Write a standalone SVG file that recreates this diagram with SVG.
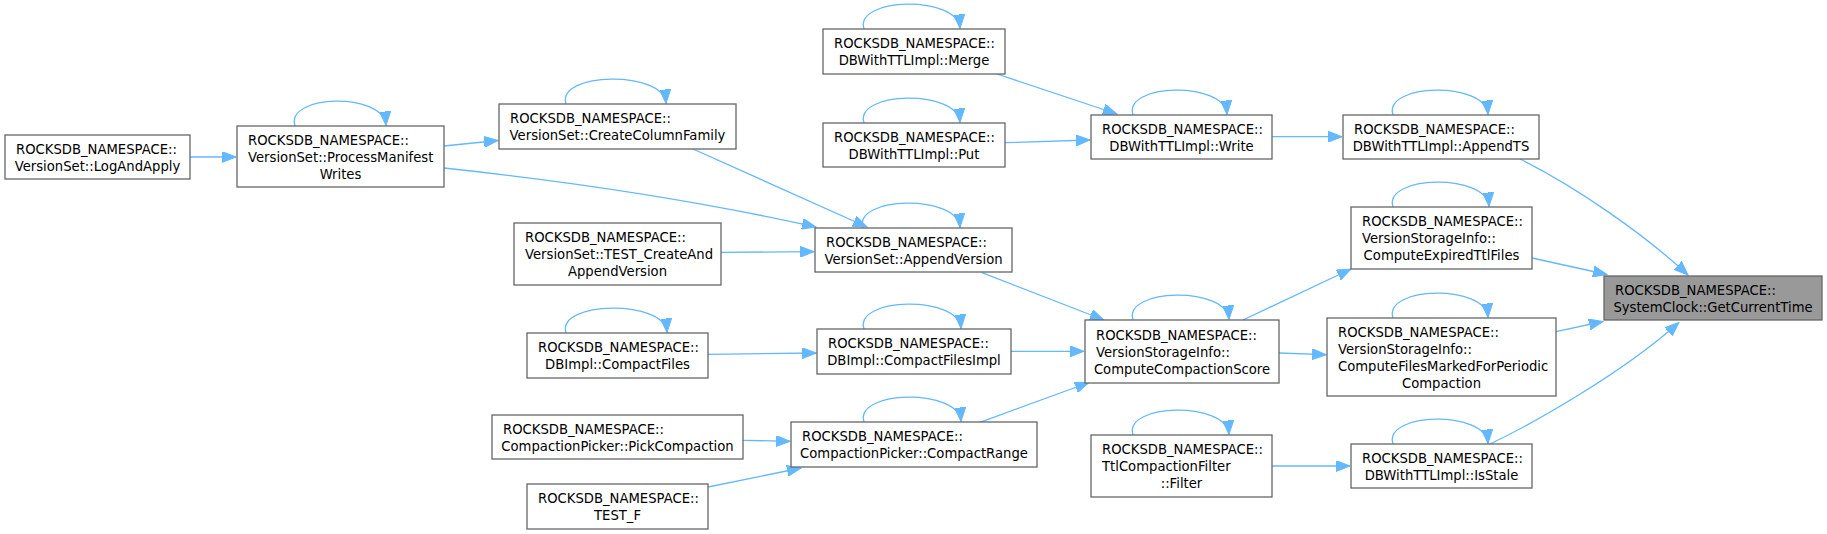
<svg xmlns="http://www.w3.org/2000/svg" width="1827" height="534" viewBox="0 0 1827 534">
<style>
.n rect{fill:#fff;stroke:#666;stroke-width:1.3}
.n.hl rect{fill:#999}
.n text{font-family:"DejaVu Sans",sans-serif;font-size:13.2px;fill:#000}
.n text.c{text-anchor:middle}
.e path{fill:none;stroke:#63b8ff;stroke-width:1.3;marker-end:url(#ah)}
</style>
<defs>
<marker id="ah" markerUnits="userSpaceOnUse" markerWidth="15" markerHeight="11" refX="14" refY="5.5" orient="auto" viewBox="0 0 15 11">
<path d="M0,0 L14,5.5 L0,11 Z" fill="#63b8ff" stroke="#63b8ff" stroke-width="1"/>
</marker>
</defs>
<rect width="1827" height="534" fill="#fff"/>
<g id="edges" class="e">
<path d="M190,157 L236,157"/>
<path d="M444,146 L498,140.5"/>
<path d="M444,168 Q650,190 816,227"/>
<path d="M693,149 L867,227"/>
<path d="M721,252.3 L814,251.7"/>
<path d="M997,74 L1117,114"/>
<path d="M1005,142.7 L1090,140"/>
<path d="M1272,136.7 L1342,136.7"/>
<path d="M1520,159 C1578,188 1645,235 1688,275"/>
<path d="M1532,258 L1607,274.5"/>
<path d="M1243,320 L1351,269"/>
<path d="M1279,353 L1326,354.7"/>
<path d="M1556,331.7 L1603,321.5"/>
<path d="M1490,444 C1530,425 1620,375 1679,322.5"/>
<path d="M982,272.7 L1104,320"/>
<path d="M1011,351.3 L1084,351.3"/>
<path d="M980,422.3 L1089,382.5"/>
<path d="M708,354.3 L816,353"/>
<path d="M743,440.3 L790,441.3"/>
<path d="M708,487 L801,468"/>
<path d="M1272,466 L1350,466"/>
<path d="M295,126 C285,94 384,92 386,125.5"/>
<path d="M566,104 C556,72 664,70 666,103.5"/>
<path d="M864,29 C854,-3 958,-5 960,28.5"/>
<path d="M864,123 C854,91 958,89 960,122.5"/>
<path d="M1133,115 C1123,83 1225,81 1227,114.5"/>
<path d="M1393,115 C1383,83 1486,81 1488,114.5"/>
<path d="M1393,207 C1383,175 1487,173 1489,206.5"/>
<path d="M863,228 C853,196 958,194 960,227.5"/>
<path d="M566,333 C556,301 665,299 667,332.5"/>
<path d="M864,329 C854,297 959,295 961,328.5"/>
<path d="M864,422 C854,390 959,388 961,421.5"/>
<path d="M1133,320 C1123,288 1227,286 1229,319.5"/>
<path d="M1393,318 C1383,286 1486,284 1488,317.5"/>
<path d="M1133,435 C1123,403 1227,401 1229,434.5"/>
<path d="M1393,444 C1383,412 1486,410 1488,443.5"/>
</g>
<g id="n1" class="n"><rect x="5" y="135" width="185" height="44"/><text x="16" y="153.5">ROCKSDB_NAMESPACE::</text><text class="c" x="97.5" y="170.5">VersionSet::LogAndApply</text></g>
<g id="n2" class="n"><rect x="237" y="126" width="207" height="61"/><text x="248" y="144.5">ROCKSDB_NAMESPACE::</text><text x="248" y="161.5">VersionSet::ProcessManifest</text><text class="c" x="340.5" y="178.5">Writes</text></g>
<g id="n3" class="n"><rect x="499" y="104" width="237" height="45"/><text x="510" y="123">ROCKSDB_NAMESPACE::</text><text class="c" x="617.5" y="140">VersionSet::CreateColumnFamily</text></g>
<g id="n4" class="n"><rect x="514" y="223" width="207" height="62"/><text x="525" y="242">ROCKSDB_NAMESPACE::</text><text x="525" y="259">VersionSet::TEST_CreateAnd</text><text class="c" x="617.5" y="276">AppendVersion</text></g>
<g id="n5" class="n"><rect x="527" y="333" width="181" height="45"/><text x="538" y="352">ROCKSDB_NAMESPACE::</text><text class="c" x="617.5" y="369">DBImpl::CompactFiles</text></g>
<g id="n6" class="n"><rect x="492" y="415" width="251" height="44"/><text x="503" y="433.5">ROCKSDB_NAMESPACE::</text><text class="c" x="617.5" y="450.5">CompactionPicker::PickCompaction</text></g>
<g id="n7" class="n"><rect x="527" y="484" width="181" height="45"/><text x="538" y="503">ROCKSDB_NAMESPACE::</text><text class="c" x="617.5" y="520">TEST_F</text></g>
<g id="n8" class="n"><rect x="823" y="29" width="182" height="45"/><text x="834" y="48">ROCKSDB_NAMESPACE::</text><text class="c" x="914" y="65">DBWithTTLImpl::Merge</text></g>
<g id="n9" class="n"><rect x="823" y="123" width="182" height="44"/><text x="834" y="141.5">ROCKSDB_NAMESPACE::</text><text class="c" x="914" y="158.5">DBWithTTLImpl::Put</text></g>
<g id="n10" class="n"><rect x="815" y="228" width="197" height="44"/><text x="826" y="246.5">ROCKSDB_NAMESPACE::</text><text class="c" x="913.5" y="263.5">VersionSet::AppendVersion</text></g>
<g id="n11" class="n"><rect x="817" y="329" width="194" height="45"/><text x="828" y="348">ROCKSDB_NAMESPACE::</text><text class="c" x="914" y="365">DBImpl::CompactFilesImpl</text></g>
<g id="n12" class="n"><rect x="791" y="422" width="246" height="45"/><text x="802" y="441">ROCKSDB_NAMESPACE::</text><text class="c" x="914" y="458">CompactionPicker::CompactRange</text></g>
<g id="n13" class="n"><rect x="1091" y="115" width="181" height="44"/><text x="1102" y="133.5">ROCKSDB_NAMESPACE::</text><text class="c" x="1181.5" y="150.5">DBWithTTLImpl::Write</text></g>
<g id="n14" class="n"><rect x="1085" y="320" width="194" height="63"/><text x="1096" y="339.5">ROCKSDB_NAMESPACE::</text><text x="1096" y="356.5">VersionStorageInfo::</text><text class="c" x="1182" y="373.5">ComputeCompactionScore</text></g>
<g id="n15" class="n"><rect x="1091" y="435" width="181" height="62"/><text x="1102" y="454">ROCKSDB_NAMESPACE::</text><text x="1102" y="471">TtlCompactionFilter</text><text class="c" x="1181.5" y="488">::Filter</text></g>
<g id="n16" class="n"><rect x="1343" y="115" width="196" height="44"/><text x="1354" y="133.5">ROCKSDB_NAMESPACE::</text><text class="c" x="1441" y="150.5">DBWithTTLImpl::AppendTS</text></g>
<g id="n17" class="n"><rect x="1351" y="207" width="181" height="62"/><text x="1362" y="226">ROCKSDB_NAMESPACE::</text><text x="1362" y="243">VersionStorageInfo::</text><text class="c" x="1441.5" y="260">ComputeExpiredTtlFiles</text></g>
<g id="n18" class="n"><rect x="1327" y="318" width="229" height="78"/><text x="1338" y="336.5">ROCKSDB_NAMESPACE::</text><text x="1338" y="353.5">VersionStorageInfo::</text><text x="1338" y="370.5">ComputeFilesMarkedForPeriodic</text><text class="c" x="1441.5" y="387.5">Compaction</text></g>
<g id="n19" class="n"><rect x="1351" y="444" width="181" height="44"/><text x="1362" y="462.5">ROCKSDB_NAMESPACE::</text><text class="c" x="1441.5" y="479.5">DBWithTTLImpl::IsStale</text></g>
<g id="n20" class="n hl"><rect x="1604" y="276" width="218" height="44"/><text x="1615" y="294.5">ROCKSDB_NAMESPACE::</text><text class="c" x="1713" y="311.5">SystemClock::GetCurrentTime</text></g>
</svg>
